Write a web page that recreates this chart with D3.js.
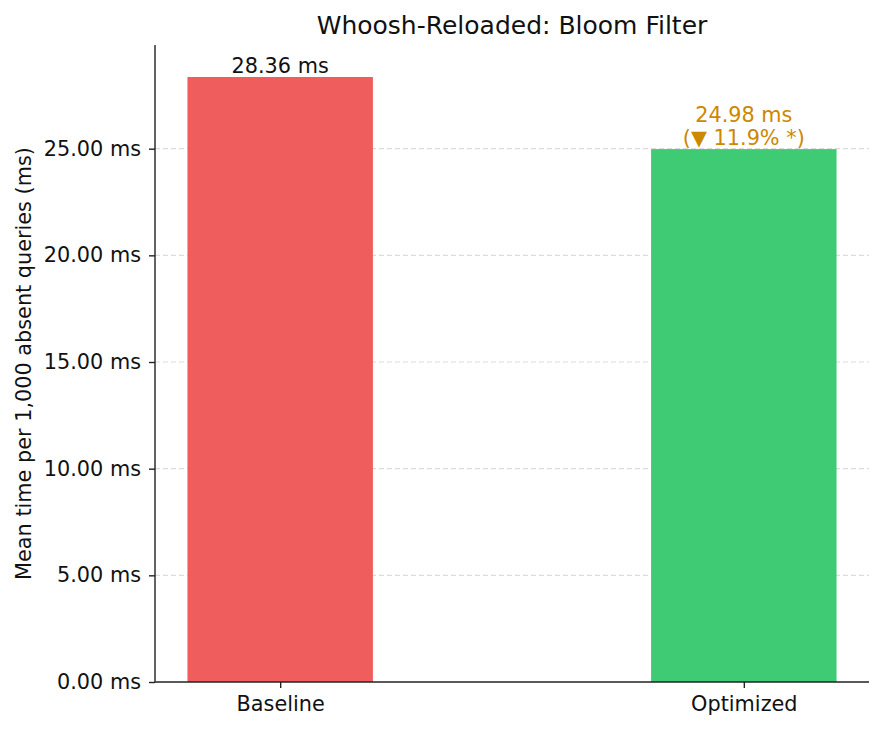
<!DOCTYPE html>
<html>
<head>
<meta charset="utf-8">
<script src="https://cdn.jsdelivr.net/npm/d3@7"></script>
<style>
  body { margin: 0; background: white; }
  text { font-family: "DejaVu Sans", sans-serif; }
</style>
</head>
<body>
<div id="main_div"></div>
<script>
var CHART_WIDTH = 884;
var CHART_HEIGHT = 732;

// Data
var categories = ["Baseline", "Optimized"];
var mean_times = [28.36, 24.98];
var bar_colors = ["#ef5d5d", "#3ecb73"];
var label_colors = ["#111111", "#cc8800"];
var change_labels = [null, "(\u25BC 11.9% *)"];
var y_ticks = [0, 5, 10, 15, 20, 25];
var Y_MAX = 29.86;

var margin = {top: 45, right: 15, bottom: 50, left: 155};
var FONT_SIZE = "20.8px";

function drawChart() {
  var svg = d3.select("#main_div").append("svg")
              .attr("width", CHART_WIDTH)
              .attr("height", CHART_HEIGHT);

  svg.append("rect")
      .attr("width", CHART_WIDTH)
      .attr("height", CHART_HEIGHT)
      .style("fill", "white");

  var plot_w = CHART_WIDTH - margin.left - margin.right;
  var plot_h = CHART_HEIGHT - margin.top - margin.bottom;

  var g = svg.append("g")
              .attr("transform", "translate(" + margin.left + "," + margin.top + ")");

  // x is a linear scale over category index, like matplotlib bar positions
  var x = d3.scaleLinear().domain([-0.27, 1.27]).range([0, plot_w]);
  var bar_w = x(0.4) - x(0);

  var y = d3.scaleLinear().domain([0, Y_MAX]).range([plot_h, 0]);

  // Grid lines
  g.append("g").selectAll("line")
      .data(y_ticks.filter(function(d) { return d > 0; })).enter()
    .append("line")
      .attr("x1", 0)
      .attr("x2", plot_w)
      .attr("y1", function(d) { return y(d); })
      .attr("y2", function(d) { return y(d); })
      .style("stroke", "#dcdcdc")
      .style("stroke-width", 1.2)
      .style("stroke-dasharray", "5,3");

  // Bars
  g.append("g").selectAll("rect")
      .data(mean_times).enter()
    .append("rect")
      .attr("x", function(d, i) { return x(i) - bar_w / 2; })
      .attr("width", bar_w)
      .attr("y", function(d) { return y(d); })
      .attr("height", function(d) { return plot_h - y(d); })
      .style("fill", function(d, i) { return bar_colors[i]; });

  // Value labels
  var labels = g.append("g").selectAll("text")
      .data(mean_times).enter()
    .append("text")
      .attr("text-anchor", "middle")
      .style("font-size", FONT_SIZE)
      .style("fill", function(d, i) { return label_colors[i]; });

  labels.each(function(d, i) {
    var t = d3.select(this);
    var cx = x(i);
    var top = y(d);
    if (change_labels[i]) {
      t.append("tspan").attr("x", cx).attr("y", top - 27).text(d.toFixed(2) + " ms");
      t.append("tspan").attr("x", cx).attr("y", top - 4).text(change_labels[i]);
    } else {
      t.append("tspan").attr("x", cx).attr("y", top - 4).text(d.toFixed(2) + " ms");
    }
  });

  // Y axis
  var y_axis = g.append("g")
      .call(d3.axisLeft(y)
              .tickValues(y_ticks)
              .tickSize(6)
              .tickPadding(8)
              .tickFormat(function(d) { return d.toFixed(2) + " ms"; }));

  // X axis
  var x_axis = g.append("g")
      .attr("transform", "translate(0," + plot_h + ")")
      .call(d3.axisBottom(x)
              .tickValues([0, 1])
              .tickSize(6)
              .tickPadding(8)
              .tickFormat(function(d) { return categories[d]; }));

  [y_axis, x_axis].forEach(function(ax) {
    ax.selectAll(".tick line").style("stroke", "#222").style("stroke-width", 1.4);
    ax.selectAll(".tick text")
      .style("font-family", "DejaVu Sans, sans-serif")
      .style("font-size", FONT_SIZE)
      .style("fill", "#111");
  });
  // redraw spines without end caps
  y_axis.select(".domain").style("stroke", "#222").style("stroke-width", 1.4)
        .attr("d", "M0," + plot_h + "V0");
  x_axis.select(".domain").style("stroke", "#222").style("stroke-width", 1.4)
        .attr("d", "M0,0H" + plot_w);

  // Y label
  svg.append("text")
      .attr("transform", "translate(31," + (margin.top + plot_h / 2) + ") rotate(-90)")
      .attr("text-anchor", "middle")
      .style("font-size", FONT_SIZE)
      .style("fill", "#111")
      .text("Mean time per 1,000 absent queries (ms)");

  // Title
  svg.append("text")
      .attr("x", margin.left + plot_w / 2)
      .attr("y", 34)
      .attr("text-anchor", "middle")
      .style("font-size", "25px")
      .style("fill", "#111")
      .text("Whoosh-Reloaded: Bloom Filter");
}

drawChart();
</script>
</body>
</html>
